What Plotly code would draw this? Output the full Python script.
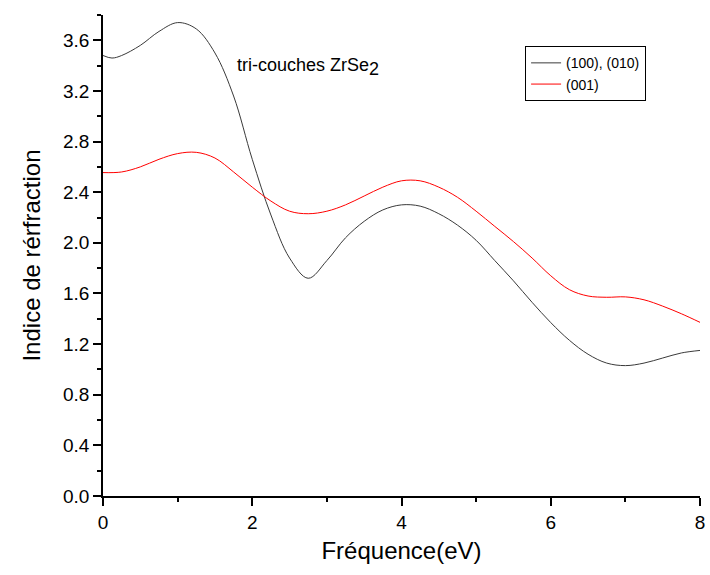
import plotly.graph_objects as go

# Black curve: (100), (010)
x_black = [0.00, 0.12, 0.25, 0.50, 0.75, 1.00, 1.25, 1.50, 1.75, 2.00, 2.25, 2.50, 2.75, 3.00, 3.25, 3.50, 3.75,
           4.00, 4.25, 4.50, 4.75, 5.00, 5.25, 5.50, 5.75, 6.00, 6.25, 6.50, 6.75, 7.00, 7.25, 7.50, 7.75, 8.00]
y_black = [3.48, 3.46, 3.48, 3.56, 3.67, 3.74, 3.69, 3.50, 3.16, 2.66, 2.22, 1.88, 1.72, 1.86, 2.04, 2.17, 2.26,
           2.30, 2.29, 2.23, 2.14, 2.02, 1.86, 1.70, 1.53, 1.37, 1.23, 1.12, 1.05, 1.03, 1.05, 1.09, 1.13, 1.15]

# Red curve: (001)
x_red = [0.00, 0.25, 0.50, 0.75, 1.00, 1.25, 1.50, 1.75, 2.00, 2.25, 2.50, 2.75, 3.00, 3.25, 3.50, 3.75,
         4.00, 4.25, 4.50, 4.75, 5.00, 5.25, 5.50, 5.75, 6.00, 6.25, 6.50, 6.75, 7.00, 7.25, 7.50, 7.75, 8.00]
y_red = [2.555, 2.56, 2.60, 2.66, 2.705, 2.715, 2.67, 2.56, 2.44, 2.33, 2.25, 2.23, 2.25, 2.30, 2.37, 2.44,
         2.49, 2.49, 2.44, 2.36, 2.25, 2.13, 2.01, 1.88, 1.74, 1.63, 1.58, 1.57, 1.573, 1.55, 1.50, 1.44, 1.372]

y_ticks = [0.0, 0.4, 0.8, 1.2, 1.6, 2.0, 2.4, 2.8, 3.2, 3.6]
x_ticks = [0, 2, 4, 6, 8]

FONT = "Liberation Sans, Arial, sans-serif"

fig = go.Figure()
fig.add_trace(go.Scatter(x=x_black, y=y_black, mode="lines", name="(100), (010)",
                         line=dict(color="#3a3a3a", width=1, shape="spline", smoothing=1.0)))
fig.add_trace(go.Scatter(x=x_red, y=y_red, mode="lines", name="(001)",
                         line=dict(color="#ff0000", width=1, shape="spline", smoothing=1.0)))

fig.add_annotation(x=1.77, y=3.39, xref="x", yref="y", xanchor="left", yanchor="middle",
                   text="tri-couches ZrSe<sub><span style=\"font-size:18px\">2</span></sub>", showarrow=False,
                   font=dict(family=FONT, size=18, color="black"))

fig.update_layout(
    width=710, height=575,
    margin=dict(l=103, r=10, t=15, b=79, autoexpand=False),
    paper_bgcolor="white", plot_bgcolor="white",
    font=dict(family=FONT, color="black"),
    showlegend=True,
    legend=dict(x=0.707, y=0.935, xanchor="left", yanchor="top",
                bordercolor="black", borderwidth=1, bgcolor="white",
                font=dict(family=FONT, size=14), tracegroupgap=0,
                itemwidth=30),
    xaxis=dict(range=[0, 8], tickvals=x_ticks, ticktext=[str(v) for v in x_ticks], automargin=False,
               showgrid=False, zeroline=False, showline=True, linecolor="black", linewidth=1.5,
               ticks="outside", ticklen=8, tickwidth=1.5, tickcolor="black",
               tickfont=dict(size=19, family=FONT),
               minor=dict(dtick=1, tick0=0, ticks="outside", ticklen=4, tickwidth=1.5, tickcolor="black", showgrid=False),
               title=dict(text="Fréquence(eV)", font=dict(size=24, family=FONT), standoff=11)),
    yaxis=dict(range=[0, 3.8], tickvals=y_ticks, ticktext=["%.1f" % v for v in y_ticks], automargin=False,
               showgrid=False, zeroline=False, showline=True, linecolor="black", linewidth=1.5,
               ticks="outside", ticklen=8, tickwidth=1.5, tickcolor="black",
               tickfont=dict(size=19, family=FONT),
               minor=dict(dtick=0.2, tick0=0, ticks="outside", ticklen=4, tickwidth=1.5, tickcolor="black", showgrid=False),
               title=dict(text="Indice de rérfraction", font=dict(size=24, family=FONT), standoff=16)),
)

fig.write_html("out.html")
